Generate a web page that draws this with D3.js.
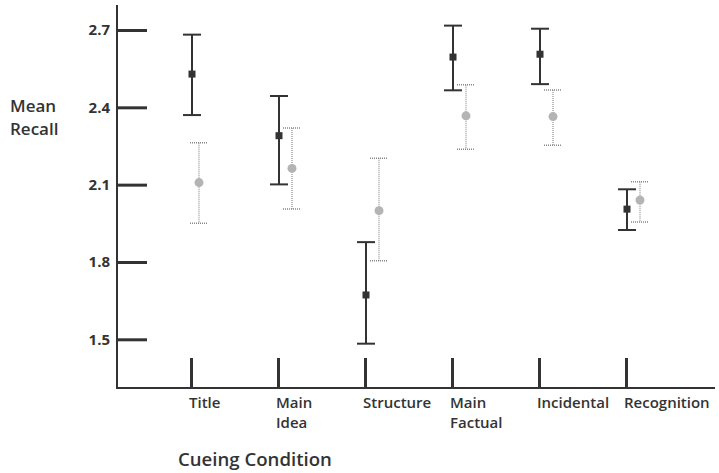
<!DOCTYPE html>
<html><head><meta charset="utf-8">
<script src="https://cdn.jsdelivr.net/npm/d3@7"></script>
<style>
body{margin:0;background:#fff;}
text{font-family:"Open Sans",sans-serif;fill:#333;}
</style></head>
<body><svg id="c" width="719" height="473"></svg>
<script>
const categories = [["Title"],["Main","Idea"],["Structure"],["Main","Factual"],["Incidental"],["Recognition"]];
const catKeys = ["Title","Main Idea","Structure","Main Factual","Incidental","Recognition"];
const yTicks = [1.5,1.8,2.1,2.4,2.7];
// Series A (dark squares, solid bars)
const meanA = [2.529,2.290,1.672,2.595,2.606,2.005];
const upA   = [2.682,2.444,1.877,2.717,2.705,2.082];
const loA   = [2.370,2.101,1.483,2.466,2.490,1.924];
// Series B (gray circles, dotted bars)
const meanB = [2.108,2.163,1.999,2.367,2.364,2.040];
const upB   = [2.263,2.320,2.202,2.488,2.467,2.111];
const loB   = [1.950,2.006,1.805,2.237,2.253,1.955];

const svg = d3.select("#c");
const y = d3.scaleLinear().domain([1.5,2.7]).range([339.3,30]);
const x = d3.scalePoint().domain(catKeys).range([191,626]);
const axX = 117, axY = 388;

svg.append("line").attr("x1",axX).attr("x2",axX).attr("y1",5).attr("y2",axY+1)
  .attr("stroke","#333").attr("stroke-width",2);
svg.append("line").attr("x1",axX).attr("x2",715).attr("y1",axY).attr("y2",axY)
  .attr("stroke","#333").attr("stroke-width",2);

const gy = svg.append("g").attr("transform",`translate(${axX},0)`)
  .call(d3.axisLeft(y).tickValues(yTicks).tickSize(-30).tickPadding(7).tickFormat(d3.format(".1f")));
gy.select(".domain").remove();
gy.selectAll(".tick line").attr("stroke","#333").attr("stroke-width",3);
gy.selectAll(".tick text").attr("font-size",15).attr("font-weight",700).attr("fill","#333");

const gx = svg.append("g").attr("transform",`translate(0,${axY})`)
  .call(d3.axisBottom(x).tickSize(-30).tickFormat(""));
gx.select(".domain").remove();
gx.selectAll(".tick line").attr("stroke","#333").attr("stroke-width",3);

const labG = svg.append("g");
categories.forEach((d,i)=>{
  d.forEach((s,j)=>labG.append("text").attr("x",x(catKeys[i])-2).attr("y",408+j*20)
    .attr("font-size",15).attr("font-weight",600).text(s));
});

svg.append("text").attr("x",10).attr("y",112).attr("font-size",17).attr("font-weight",600).text("Mean");
svg.append("text").attr("x",10).attr("y",135).attr("font-size",17).attr("font-weight",600).text("Recall");
svg.append("text").attr("x",178).attr("y",466).attr("font-size",18.6).attr("font-weight",600).text("Cueing Condition");

const offB = 14, offA = 1;
const gB = svg.append("g");
catKeys.forEach((k,i)=>{
  const cx = x(k)+(i===0?8:offB);
  gB.append("line").attr("x1",cx).attr("x2",cx).attr("y1",y(upB[i])).attr("y2",y(loB[i]))
    .attr("stroke","#a8a8a8").attr("stroke-width",1.5).attr("stroke-dasharray","1,1");
  [upB[i],loB[i]].forEach(v=>gB.append("line").attr("x1",cx-9).attr("x2",cx+9)
    .attr("y1",y(v)).attr("y2",y(v)).attr("stroke","#888").attr("stroke-width",1.5).attr("stroke-dasharray","1,1"));
  gB.append("circle").attr("cx",cx).attr("cy",y(meanB[i])).attr("r",4.5).attr("fill","#b4b4b4");
});

const gA = svg.append("g");
catKeys.forEach((k,i)=>{
  const cx = x(k)+offA;
  gA.append("line").attr("x1",cx).attr("x2",cx).attr("y1",y(upA[i])).attr("y2",y(loA[i]))
    .attr("stroke","#333").attr("stroke-width",2);
  [upA[i],loA[i]].forEach(v=>gA.append("line").attr("x1",cx-9).attr("x2",cx+9)
    .attr("y1",y(v)).attr("y2",y(v)).attr("stroke","#333").attr("stroke-width",2));
  gA.append("rect").attr("x",cx-3.5).attr("y",y(meanA[i])-3.5).attr("width",7).attr("height",7).attr("fill","#333");
});
</script></body></html>
